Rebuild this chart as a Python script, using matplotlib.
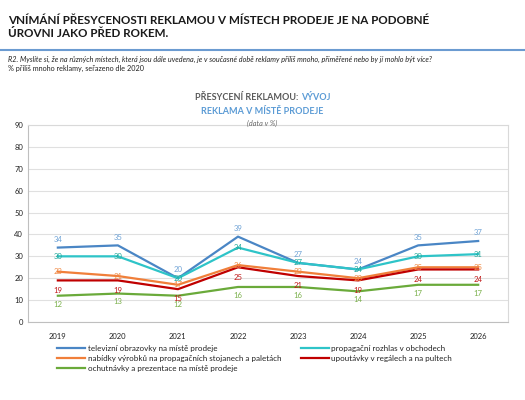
import matplotlib
matplotlib.use("Agg")
import matplotlib.pyplot as plt
from matplotlib.lines import Line2D

plt.rcParams['font.family'] = ['Lato', 'DejaVu Sans']

# data
years = ['2019', '2020', '2021', '2022', '2023', '2024', '2025', '2026']
tv = [34, 35, 20, 39, 27, 24, 35, 37]
rozhlas = [30, 30, 20, 34, 27, 24, 30, 31]
nabidky = [23, 21, 17, 26, 23, 20, 25, 25]
upoutavky = [19, 19, 15, 25, 21, 19, 24, 24]
ochutnavky = [12, 13, 12, 16, 16, 14, 17, 17]

names = ['televizní obrazovky na místě prodeje',
         'propagační rozhlas v obchodech',
         'nabídky výrobků na propagačních stojanech a paletách',
         'upoutávky v regálech a na pultech',
         'ochutnávky a prezentace na místě prodeje']

series = [tv, rozhlas, nabidky, upoutavky, ochutnavky]
line_cols = ['#4a86c5', '#2ec4c8', '#f07f3a', '#c00000', '#6aaa3a']
lab_cols = ['#6fa3d6', '#22a89a', '#f08a45', '#c01818', '#7ab04a']
offsets = [6, 0, 0, -7, -6]  # label offset in points

fig = plt.figure(figsize=(5.25, 4), dpi=100)

# header
fig.text(0.016, 0.962, 'VNÍMÁNÍ PŘESYCENOSTI REKLAMOU V MÍSTECH PRODEJE JE NA PODOBNÉ\nÚROVNI JAKO PŘED ROKEM.',
         fontsize=8.4, fontweight='bold', color='#1a1a1a', va='top', ha='left', linespacing=1.25)
fig.add_artist(Line2D([0, 1], [0.875, 0.875], color='#6b9bd1', lw=1.5))
fig.text(0.016, 0.86, 'R2. Myslíte si, že na různých místech, která jsou dále uvedena, je v současné době reklamy příliš mnoho, přiměřené nebo by jí mohlo být více?',
         fontsize=5.2, style='italic', color='#222222', va='top')
fig.text(0.016, 0.837, '% příliš mnoho reklamy, seřazeno dle 2020',
         fontsize=5.2, color='#222222', va='top')

# chart title, two colours on the first line, centred together
ta = fig.text(0.5, 0.755, 'PŘESYCENÍ REKLAMOU: ', fontsize=6.5, fontweight='bold',
              color='#595959', ha='left', va='center')
tb = fig.text(0.5, 0.755, 'VÝVOJ', fontsize=6.5, fontweight='bold', color='#5b9bd5',
              ha='left', va='center')
r = fig.canvas.get_renderer()
wa = ta.get_window_extent(r).width / fig.bbox.width
wb = tb.get_window_extent(r).width / fig.bbox.width
ta.set_x(0.5 - (wa + wb) / 2)
tb.set_x(0.5 - (wa + wb) / 2 + wa)
fig.text(0.5, 0.72, 'REKLAMA V MÍSTĚ PRODEJE', fontsize=6.5, fontweight='bold',
         color='#5b9bd5', ha='center', va='center')
fig.text(0.5, 0.692, '(data v %)', fontsize=5.2, style='italic', color='#666666',
         ha='center', va='center')

ax = fig.add_axes([0.053, 0.195, 0.915, 0.4925])
x = range(len(years))
for vals, lc, tc, off, nm in zip(series, line_cols, lab_cols, offsets, names):
    ax.plot(x, vals, color=lc, lw=1.6, label=nm)
    for xi, v in zip(x, vals):
        ax.annotate(str(v), (xi, v), xytext=(0, off), textcoords='offset points',
                    ha='center', va='center', fontsize=5.6, color=tc)

ax.set_xlim(-0.5, 7.5)
ax.set_ylim(0, 90)
ax.set_yticks(range(0, 91, 10))
ax.set_xticks(list(x))
ax.set_xticklabels(years)
ax.tick_params(axis='both', length=0, labelsize=5.5, colors='#222222')
ax.tick_params(axis='x', pad=8)
ax.grid(axis='y', color='#e0e0e0', lw=0.8)
ax.set_axisbelow(True)
for side in ['top', 'right']:
    ax.spines[side].set_color('#d9d9d9')
for side in ['left', 'bottom']:
    ax.spines[side].set_color('#bfbfbf')
for sp in ax.spines.values():
    sp.set_linewidth(0.8)

# legend
handles, labels = ax.get_legend_handles_labels()
order = [0, 2, 4, 1, 3]
leg = fig.legend([handles[i] for i in order], [labels[i] for i in order],
                 loc='upper left', bbox_to_anchor=(0.095, 0.155), ncol=2,
                 frameon=False, fontsize=5.8, handlelength=3.5, handletextpad=0.3,
                 columnspacing=2.4, labelspacing=0.35)
for t in leg.get_texts():
    t.set_color('#222222')

fig.savefig('out.png', dpi=100)
